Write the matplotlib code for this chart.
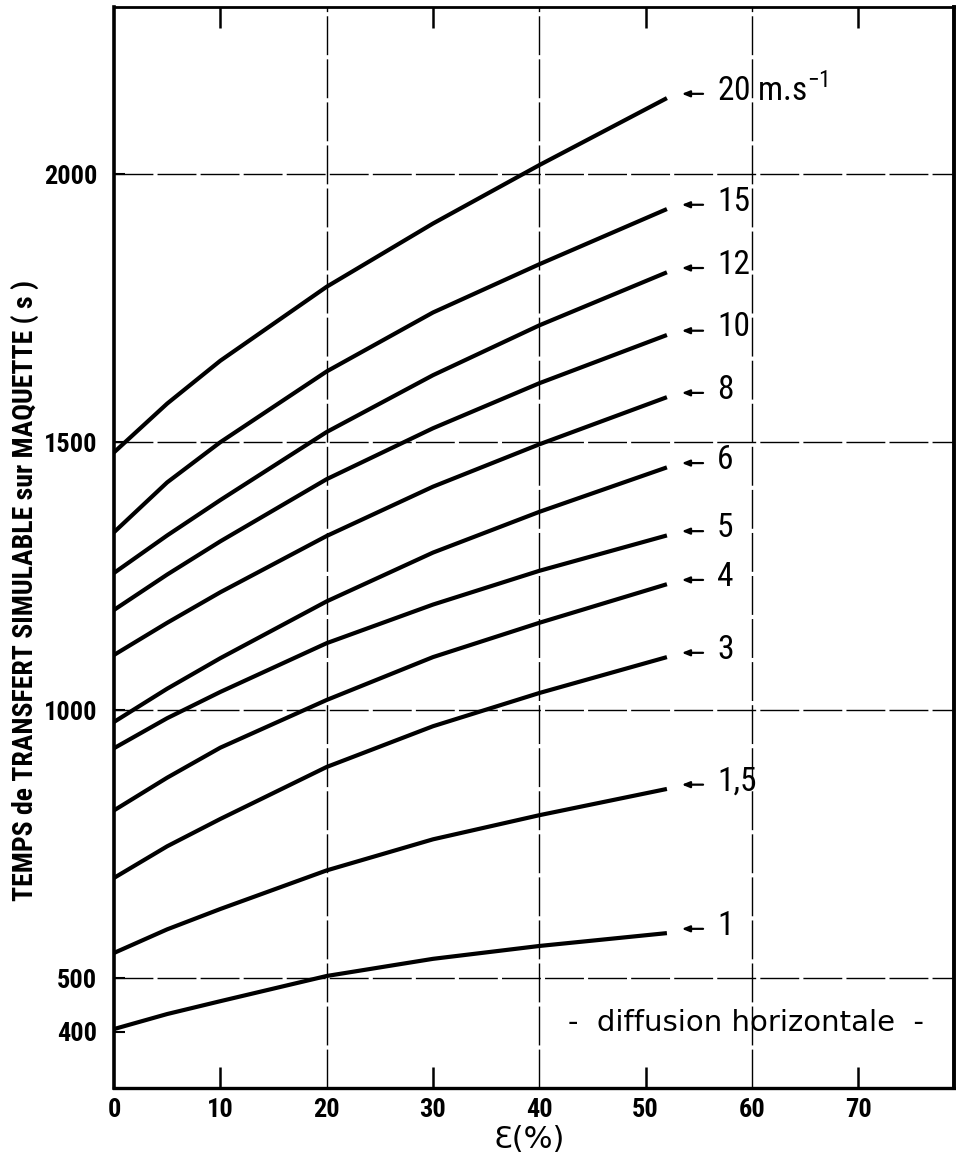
import matplotlib
matplotlib.use('Agg')
import matplotlib.pyplot as plt
from matplotlib import font_manager as fm

# ---------------- data ----------------
eps = [0, 5, 10, 20, 30, 40, 52]
speed_labels = ['20 m.s$^{\\mathregular{-1}}$', '15', '12', '10', '8', '6', '5', '4', '3', '1,5', '1']
t_20 = [1481, 1572, 1652, 1790, 1908, 2017, 2142]
t_15 = [1332, 1425, 1500, 1632, 1742, 1832, 1935]
t_12 = [1256, 1326, 1392, 1519, 1625, 1718, 1817]
t_10 = [1187, 1253, 1315, 1431, 1526, 1610, 1700]
t_8 = [1103, 1163, 1220, 1325, 1417, 1496, 1584]
t_6 = [978, 1040, 1097, 1203, 1294, 1370, 1453]
t_5 = [929, 985, 1034, 1125, 1197, 1260, 1326]
t_4 = [813, 874, 930, 1019, 1099, 1163, 1235]
t_3 = [687, 746, 797, 894, 970, 1032, 1099]
t_1_5 = [547, 591, 629, 701, 759, 804, 853]
t_1 = [405, 433, 457, 504, 536, 560, 584]
series = [t_20, t_15, t_12, t_10, t_8, t_6, t_5, t_4, t_3, t_1_5, t_1]

xticks_labelled_grid = [0, 20, 40, 60]
xticks_marked = [10, 30, 50, 70]
yticks = [400, 500, 1000, 1500, 2000]
ygrid = [500, 1000, 1500, 2000]
xgrid = [20, 40, 60]

# ---------------- fonts ----------------
avail = {f.name for f in fm.fontManager.ttflist}
def pick(names):
    for n in names:
        if n in avail:
            return n
    return 'DejaVu Sans'
cond_font = pick(['Liberation Sans Narrow', 'DejaVu Sans Condensed', 'Roboto Condensed', 'Open Sans Condensed'])
reg_font = 'DejaVu Sans'
plt.rcParams['mathtext.fontset'] = 'custom'
plt.rcParams['mathtext.rm'] = cond_font

# ---------------- figure ----------------
fig = plt.figure(figsize=(9.56, 11.57), dpi=100)
ax = fig.add_axes([114/956, 1-1088/1157, (954-114)/956, (1088-7)/1157])
ax.set_xlim(0, 79)
ax.set_ylim(295, 2312)

for v in ygrid:
    ax.axhline(v, color='black', lw=1.0, ls=(0, (28, 3)), zorder=1)
for v in xgrid:
    ax.axvline(v, color='black', lw=1.0, ls=(0, (28, 3)), zorder=1)

for s in series:
    ax.plot(eps, s, color='black', lw=3.0, solid_capstyle='butt',
            solid_joinstyle='round', zorder=3)

# labels at curve ends
for lab, s in zip(speed_labels, series):
    yl = s[-1] + 8
    ax.annotate('', xy=(53.4, yl), xytext=(55.4, yl),
                arrowprops=dict(arrowstyle='-|>,head_length=0.45,head_width=0.18',
                                lw=1.6, color='black', shrinkA=0, shrinkB=0))
    ax.text(56.7, yl + 6, lab, fontsize=24, family=cond_font,
            ha='left', va='center', color='black')

ax.text(0.752, 0.06, '-  diffusion horizontale  -', transform=ax.transAxes,
        fontsize=21, family=reg_font, ha='center', va='center')

# spines
for side, lw in [('left', 2.6), ('bottom', 2.4), ('top', 2.0), ('right', 2.8)]:
    ax.spines[side].set_linewidth(lw)
    ax.spines[side].set_color('black')

# ticks
ax.set_xticks(xticks_marked)
ax.set_xticklabels([str(v) for v in xticks_marked])
ax.set_xticks(xticks_labelled_grid, minor=True)
ax.set_xticklabels([str(v) for v in xticks_labelled_grid], minor=True)
ax.tick_params(axis='x', which='major', direction='in', length=15, width=1.8,
               top=True, bottom=True, pad=7)
ax.tick_params(axis='x', which='minor', direction='in', length=0, pad=7)
ax.set_yticks(yticks)
ax.set_yticklabels([str(v) for v in yticks])
ax.tick_params(axis='y', which='major', direction='in', length=8, width=1.5, pad=12)
for lbl in ax.get_xticklabels(which='both') + ax.get_yticklabels():
    lbl.set_fontfamily(cond_font)
    lbl.set_fontweight('bold')
    lbl.set_fontsize(19)

fig.text(25/956, 1-590/1157, 'TEMPS de TRANSFERT SIMULABLE sur MAQUETTE ( s )',
         rotation=90, ha='center', va='center', fontsize=20,
         family=cond_font, fontweight='bold')
fig.text(529/956, 1-1140/1157, 'Ɛ(%)', ha='center', va='center',
         fontsize=22, family=reg_font)

fig.savefig('out.png', dpi=100, facecolor='white')
